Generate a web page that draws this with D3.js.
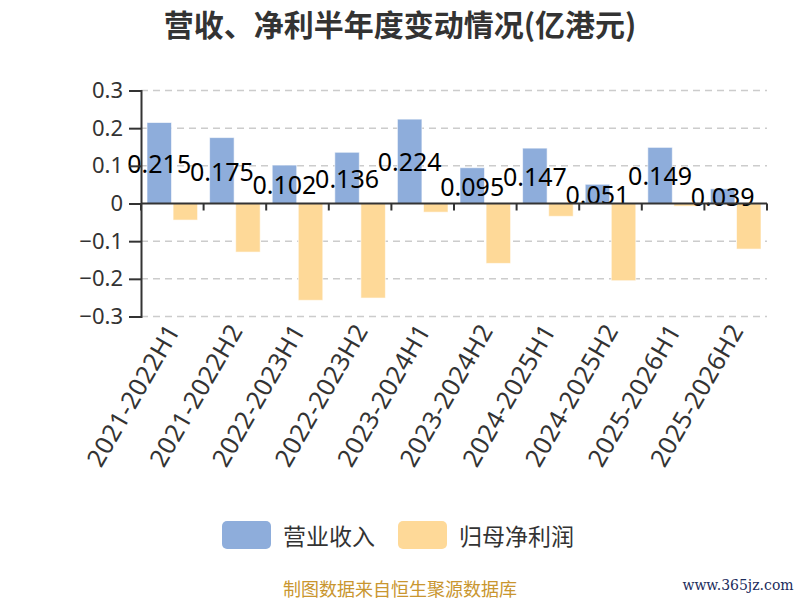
<!DOCTYPE html>
<html>
<head>
<meta charset="utf-8">
<script src="https://cdn.jsdelivr.net/npm/d3@7"></script>
<style>
  body { margin: 0; background: #fff; }
  svg { display: block; font-family: "Noto Sans", "Noto Sans CJK SC", sans-serif; }
</style>
</head>
<body>
<div id="chart"></div>
<script>
const periods = ['2021-2022H1', '2021-2022H2', '2022-2023H1', '2022-2023H2', '2023-2024H1',
  '2023-2024H2', '2024-2025H1', '2024-2025H2', '2025-2026H1', '2025-2026H2'];
const revenue = [0.215, 0.175, 0.102, 0.136, 0.224, 0.095, 0.147, 0.051, 0.149, 0.039];
const netProfit = [-0.044, -0.129, -0.257, -0.251, -0.023, -0.159, -0.034, -0.205, -0.007, -0.121];
const yTicks = [0.3, 0.2, 0.1, 0, -0.1, -0.2, -0.3];
const seriesNames = ['营业收入', '归母净利润'];
const colors = ['#8EADDB', '#FED998'];

const width = 800, height = 600;
const m = { top: 90.5, left: 141, right: 33, bottom: 283.5 };
const innerW = width - m.left - m.right;

const svg = d3.select('#chart').append('svg')
  .attr('width', width)
  .attr('height', height);

// Title
svg.append('text')
  .attr('x', 400).attr('y', 23)
  .attr('text-anchor', 'middle')
  .attr('dominant-baseline', 'central')
  .attr('font-family', '"Noto Sans CJK SC", sans-serif')
  .attr('font-size', 30).attr('font-weight', 'bold')
  .attr('fill', '#333')
  .text('营收、净利半年度变动情况(亿港元)');

const x = d3.scaleBand().domain(periods).range([m.left, m.left + innerW]);
const y = d3.scaleLinear().domain([-0.3, 0.3]).range([316.5, 90.5]);

// Grid
svg.append('g')
  .selectAll('line')
  .data(yTicks.filter(t => t !== 0))
  .join('line')
  .attr('x1', m.left).attr('x2', m.left + innerW)
  .attr('y1', d => y(d)).attr('y2', d => y(d))
  .attr('stroke', '#ccc')
  .attr('stroke-width', 1.5)
  .attr('stroke-dasharray', '7,5');

// Bars
const sub = d3.scaleBand().domain([0, 1]).range([6, x.bandwidth() - 6]).paddingInner(0.06);
const groups = svg.append('g')
  .selectAll('g')
  .data(periods)
  .join('g')
  .attr('transform', d => `translate(${x(d)},0)`);

[revenue, netProfit].forEach((vals, s) => {
  groups.append('rect')
    .attr('x', sub(s))
    .attr('width', sub.bandwidth())
    .attr('y', (d, i) => y(Math.max(0, vals[i])))
    .attr('height', (d, i) => Math.abs(y(vals[i]) - y(0)))
    .attr('fill', colors[s])
    .attr('stroke', '#fff')
    .attr('stroke-opacity', 0.6)
    .attr('stroke-width', 1);
});

// Y axis
const yAxis = svg.append('g')
  .attr('transform', `translate(${m.left},0)`)
  .call(d3.axisLeft(y).tickValues(yTicks).tickSize(12).tickPadding(6)
    .tickFormat(d => d === 0 ? '0' : d3.format('.1f')(d)));
yAxis.select('.domain').attr('stroke', '#333').attr('stroke-width', 2);
yAxis.selectAll('.tick line').attr('stroke', '#333').attr('stroke-width', 2);
yAxis.selectAll('.tick text')
  .attr('font-size', 22).attr('fill', '#333')
  .attr('font-family', '"Noto Sans", sans-serif');

// X axis on zero
const xAxis = svg.append('g')
  .attr('transform', `translate(0,${y(0)})`);
xAxis.append('line')
  .attr('x1', m.left).attr('x2', m.left + innerW)
  .attr('stroke', '#333').attr('stroke-width', 2);
xAxis.selectAll('.xt')
  .data(periods.concat(['end']))
  .join('line')
  .attr('class', 'xt')
  .attr('x1', (d, i) => m.left + i * x.step())
  .attr('x2', (d, i) => m.left + i * x.step())
  .attr('y1', 0).attr('y2', 7)
  .attr('stroke', '#333').attr('stroke-width', 2);

// X labels at bottom
svg.append('g')
  .selectAll('text')
  .data(periods)
  .join('text')
  .attr('transform', d => `translate(${x(d) + x.bandwidth() / 2},${y(-0.3) + 9}) rotate(-60)`)
  .attr('text-anchor', 'end')
  .attr('dominant-baseline', 'central')
  .attr('font-size', 25)
  .attr('letter-spacing', 0.4)
  .attr('fill', '#333')
  .text(d => d);

// Value labels (revenue, inside middle)
groups.append('text')
  .attr('x', sub(0) + sub.bandwidth() / 2)
  .attr('y', (d, i) => (y(revenue[i]) + y(0)) / 2)
  .attr('text-anchor', 'middle')
  .attr('dominant-baseline', 'central')
  .attr('font-size', 25)
  .attr('fill', '#000')
  .text((d, i) => revenue[i]);

// Legend
const legend = svg.append('g');
const legendX = [222, 398];
seriesNames.forEach((name, i) => {
  legend.append('rect')
    .attr('x', legendX[i]).attr('y', 521)
    .attr('width', 49).attr('height', 28)
    .attr('rx', 5)
    .attr('fill', colors[i]);
  legend.append('text')
    .attr('x', legendX[i] + 61).attr('y', 535)
    .attr('dominant-baseline', 'central')
    .attr('font-family', '"Noto Sans CJK SC", sans-serif')
    .attr('font-size', 23)
    .attr('fill', '#333')
    .text(name);
});

// Footer
svg.append('text')
  .attr('x', 400).attr('y', 588)
  .attr('text-anchor', 'middle')
  .attr('dominant-baseline', 'central')
  .attr('font-family', '"Noto Sans CJK SC", sans-serif')
  .attr('font-size', 18)
  .attr('fill', '#C9962F')
  .text('制图数据来自恒生聚源数据库');

svg.append('text')
  .attr('x', 738).attr('y', 585)
  .attr('text-anchor', 'middle')
  .attr('dominant-baseline', 'central')
  .attr('font-family', '"DejaVu Serif", serif')
  .attr('font-size', 14)
  .attr('fill', '#1B2C5C')
  .text('www.365jz.com');
</script>
</body>
</html>
